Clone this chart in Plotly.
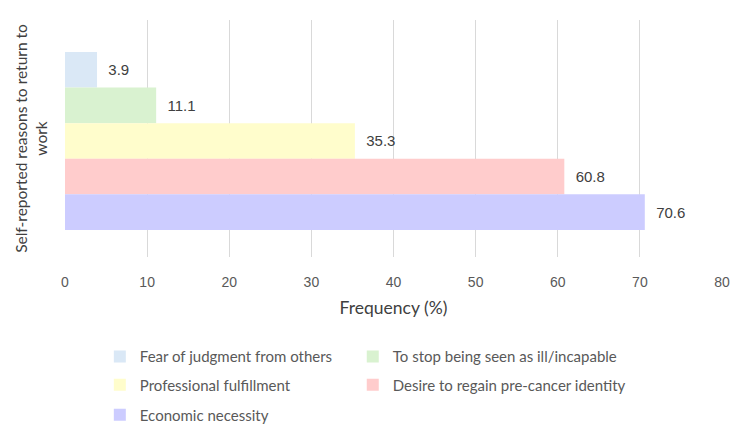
import plotly.graph_objects as go

categories = ["Fear of judgment from others", "To stop being seen as ill/incapable",
              "Professional fulfillment", "Desire to regain pre-cancer identity",
              "Economic necessity"]
values = [3.9, 11.1, 35.3, 60.8, 70.6]
colors = ["#DAE8F6", "#D9F2D0", "#FFFDCC", "#FFCCCC", "#CCCCFF"]
legend_ids = ["legend", "legend2", "legend3", "legend4", "legend5"]
x_ticks = [0, 10, 20, 30, 40, 50, 60, 70, 80]

fig = go.Figure()
for name, v, c, lg in zip(categories, values, colors, legend_ids):
    fig.add_trace(go.Bar(
        y=[0], x=[v], name=name, orientation="h",
        marker=dict(color=c, line=dict(width=0)),
        text=[v], texttemplate="  %{x}", textposition="outside",
        textfont=dict(family="Liberation Sans", size=15, color="#404040"),
        constraintext="none",
        cliponaxis=False, legend=lg,
    ))

legend_common = dict(orientation="h",
                     font=dict(family="Lato", size=15, color="#595959"),
                     xanchor="left", yanchor="middle", bgcolor="rgba(0,0,0,0)",
                     itemclick=False)

col_x = [0.053, 0.438]
row_y = [-0.421, -0.540, -0.667]

fig.update_layout(
    width=750, height=438,
    margin=dict(l=65, r=28, t=20, b=181, autoexpand=False),
    plot_bgcolor="white", paper_bgcolor="white",
    barmode="group", bargap=0.25, bargroupgap=0,
    showlegend=True,
    xaxis=dict(range=[0, 80], tickvals=x_ticks, showgrid=True, gridcolor="#D9D9D9",
               gridwidth=1, zeroline=False, showline=False,
               ticks="outside", ticklen=12, tickcolor="rgba(0,0,0,0)",
               tickfont=dict(family="Liberation Sans", size=14, color="#595959"),
               title=dict(text="Frequency (%)", standoff=12,
                          font=dict(family="Lato", size=17.5, color="#404040"))),
    yaxis=dict(range=[0.489, -0.51], showticklabels=False, showgrid=False,
               zeroline=False, showline=False, fixedrange=True,
               title=dict(text="Self-reported reasons to return to<br>work", standoff=12,
                          font=dict(family="Lato", size=15.5, color="#404040"))),
    legend=dict(x=col_x[0], y=row_y[0], **legend_common),
    legend2=dict(x=col_x[1], y=row_y[0], **legend_common),
    legend3=dict(x=col_x[0], y=row_y[1], **legend_common),
    legend4=dict(x=col_x[1], y=row_y[1], **legend_common),
    legend5=dict(x=col_x[0], y=row_y[2], **legend_common),
)

fig.write_html("out.html")
